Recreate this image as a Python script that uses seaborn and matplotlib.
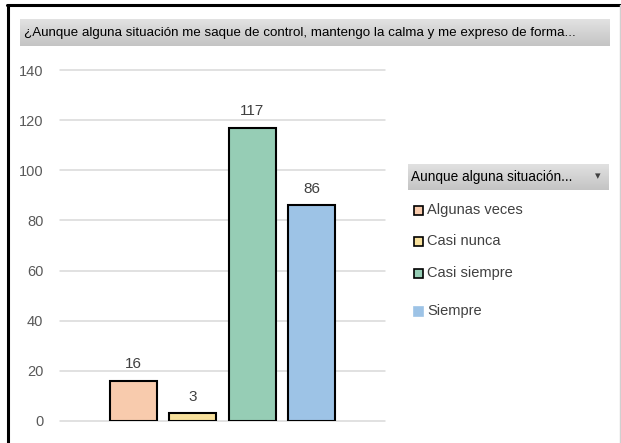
import numpy as np
import pandas as pd
import matplotlib
matplotlib.use("Agg")
import matplotlib.pyplot as plt
from matplotlib.patches import Rectangle
from matplotlib.lines import Line2D
import seaborn as sns

# data
categories = ["Algunas veces", "Casi nunca", "Casi siempre", "Siempre"]
counts = [16, 3, 117, 86]
colors = ["#F8CBAD", "#F7E09C", "#96CDB5", "#9DC3E6"]
y_ticks = [0, 20, 40, 60, 80, 100, 120, 140]
title_text = "¿Aunque alguna situación me saque de control, mantengo la calma y me expreso de forma..."
legend_title = "Aunque alguna situación..."

sns.set_style("white")
plt.rcParams["font.family"] = ["Liberation Sans", "DejaVu Sans"]

W, H = 621, 443
fig = plt.figure(figsize=(W / 100, H / 100), dpi=100)


def fx(px): return px / W
def fy(py): return 1 - py / H


# outer frame (black left and top, light right)
fig.add_artist(Line2D([fx(8), fx(8)], [0, fy(5)], color="black", lw=2.2))
fig.add_artist(Line2D([fx(7), 1], [fy(5), fy(5)], color="black", lw=2.2))
fig.add_artist(Line2D([fx(620), fx(620)], [0, fy(5)], color="#d0d0d0", lw=1))

# gradient bars for title and legend header
grad = np.linspace(0, 1, 50).reshape(-1, 1)
gray_cmap = matplotlib.colors.LinearSegmentedColormap.from_list("g", ["#e2e2e2", "#c4c4c4"])
def header_bar(x0, y0, x1, y1):
    hax = fig.add_axes([fx(x0), fy(y1), fx(x1 - x0), (y1 - y0) / H])
    hax.imshow(grad, aspect="auto", cmap=gray_cmap, extent=[0, 1, 0, 1])
    hax.set_axis_off()
    return hax

header_bar(20, 19, 610, 46)
fig.text(fx(24), fy(33), title_text, fontsize=9.6, color="black", va="center", ha="left")

# main axes
ax = fig.add_axes([fx(60), fy(421), fx(385 - 60), (421 - 70) / H])
df = pd.DataFrame({"cat": categories, "n": counts})
sns.barplot(data=df, x="cat", y="n", hue="cat", palette=colors, width=0.79, saturation=1,
            edgecolor="black", linewidth=1.5, legend=False, ax=ax, zorder=3)
ax.set_xlim(-1.23, 3 + 1.23)
ax.set_ylim(0, 140)
ax.set_yticks(y_ticks)
ax.set_yticklabels([str(t) for t in y_ticks], fontsize=10.5, color="#595959")
ax.tick_params(axis="y", length=0, pad=12)
ax.set_xticks([])
ax.set_xlabel("")
ax.set_ylabel("")
for t in y_ticks:
    ax.axhline(t, color="#d9d9d9", lw=1.1, zorder=1, clip_on=False)
for s in ax.spines.values():
    s.set_visible(False)
for i, v in enumerate(counts):
    ax.annotate(str(v), (i, v), xytext=(0, 7), textcoords="offset points",
                ha="center", va="bottom", fontsize=11, color="#404040")

# legend
header_bar(408, 164, 609, 190)
fig.text(fx(411), fy(177), legend_title, fontsize=9.8, color="black", va="center")
fig.text(fx(598), fy(176), "▾", fontsize=8, color="#404040", va="center", ha="center",
         family="DejaVu Sans")
item_y = [210, 241, 273, 311]
for i, (lab, col) in enumerate(zip(categories, colors)):
    yc = item_y[i]
    edge = "black" if i < 3 else col
    fig.add_artist(Rectangle((fx(414), fy(yc + 5)), fx(9), 9 / H, facecolor=col,
                             edgecolor=edge, lw=1.2, transform=fig.transFigure))
    fig.text(fx(427), fy(yc), lab, fontsize=10.5, color="#404040", va="center")

fig.savefig("out.png", dpi=100)
